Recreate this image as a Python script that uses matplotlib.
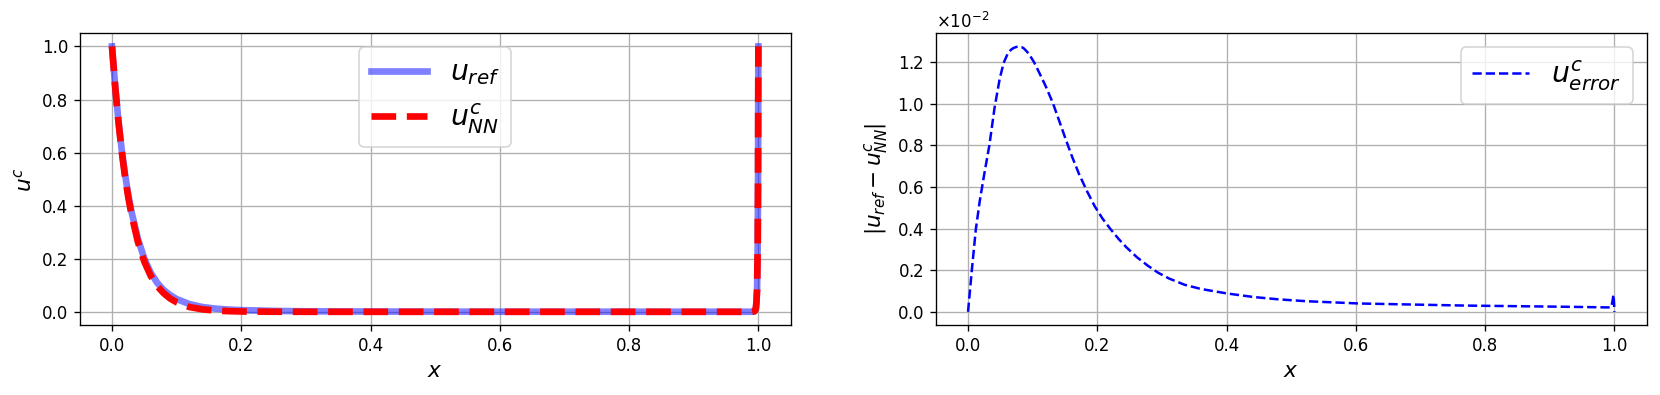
# rozwiązanie referencyjne i sieć neuronowa - porównanie
import numpy as np
import matplotlib.pyplot as plt

# punkty x dla u (gęściej przy brzegach, gdzie jest warstwa przyścienna)
x_u = [0, 0.005, 0.01, 0.015, 0.02, 0.025, 0.03, 0.04, 0.05, 0.06, 0.07, 0.08, 0.09, 0.10,
       0.12, 0.14, 0.16, 0.18, 0.20, 0.25, 0.30, 0.40, 0.50, 0.60, 0.70, 0.80, 0.90, 0.98,
       0.99, 0.994, 0.996, 0.997, 0.998, 0.999, 0.9995, 1.0]

# wartości
u_ref = [1.0, 0.848, 0.719, 0.611, 0.521, 0.444, 0.379, 0.276, 0.200, 0.147, 0.109, 0.082, 0.063,
         0.048, 0.029, 0.018, 0.012, 0.0084, 0.0063, 0.0034, 0.0019, 0.0010, 0.0006, 0.0004,
         0.00035, 0.0003, 0.00025, 0.0002, 0.0002, 0.002, 0.01, 0.035, 0.085, 0.25, 0.5, 1.0]
u_nn = [1.0, 0.846, 0.716, 0.605, 0.512, 0.434, 0.368, 0.264, 0.189, 0.135, 0.097, 0.070, 0.050,
        0.036, 0.018, 0.0093, 0.0048, 0.0025, 0.0013, 0.0003, 0.0001, 0.0, 0.0, 0.0,
        0.0, 0.0, 0.0, 0.0, 0.0, 0.002, 0.01, 0.035, 0.08, 0.25, 0.5, 1.0]

# błąd |u_ref - u_NN|
x_err = [0, 0.006, 0.012, 0.018, 0.025, 0.033, 0.041, 0.049, 0.055, 0.061, 0.066, 0.070, 0.075,
         0.079, 0.083, 0.087, 0.094, 0.102, 0.110, 0.120, 0.131, 0.141, 0.151, 0.161, 0.172,
         0.184, 0.196, 0.208, 0.221, 0.233, 0.245, 0.261, 0.278, 0.294, 0.311, 0.335, 0.360,
         0.401, 0.442, 0.480, 0.523, 0.605, 0.687, 0.769, 0.850, 0.932, 0.993, 0.995, 0.997,
         0.9985, 0.9995, 1.0]
u_err = [0, 0.00205, 0.00395, 0.00530, 0.00660, 0.00800, 0.00980, 0.01120, 0.01195, 0.01238,
         0.01258, 0.01267, 0.01273, 0.01275, 0.01272, 0.01264, 0.01240, 0.01200, 0.01150,
         0.01085, 0.01005, 0.00918, 0.00830, 0.00745, 0.00660, 0.00580, 0.00507, 0.00448,
         0.00395, 0.00350, 0.00310, 0.00263, 0.00222, 0.00188, 0.00160, 0.00130, 0.00110,
         0.00088, 0.00071, 0.00060, 0.00051, 0.00040, 0.00035, 0.00030, 0.00027, 0.00024,
         0.00021, 0.00022, 0.0005, 0.00082, 0.0004, 0.0]

fig, axs = plt.subplots(1, 2, figsize=(1660 / 120, 395 / 120), dpi=120)
plt.subplots_adjust(left=0.048, right=0.992, bottom=0.177, top=0.916, wspace=0.204)

# lewy wykres
ax = axs[0]
ax.plot(x_u, u_ref, 'b', alpha=0.5, linewidth=4, label='$u_{ref}$')
ax.plot(x_u, u_nn, 'r--', linewidth=4, label='$u^c_{NN}$')
ax.set_xlabel('$x$', fontsize=13)
ax.set_ylabel('$u^c$', fontsize=13)
ax.grid(True)
ax.legend(loc='upper center', fontsize=17)

# prawy wykres - błąd
ax = axs[1]
ax.plot(x_err, u_err, 'b--', linewidth=1.5, label='$u^c_{error}$')
ax.set_xlabel('$x$', fontsize=13)
ax.set_ylabel('$|u_{ref} - u^c_{NN}|$', fontsize=13)
ax.ticklabel_format(axis='y', style='sci', scilimits=(0, 0), useMathText=True)
ax.grid(True)
ax.legend(loc='upper right', fontsize=17)

plt.savefig('out.png', dpi=120)
